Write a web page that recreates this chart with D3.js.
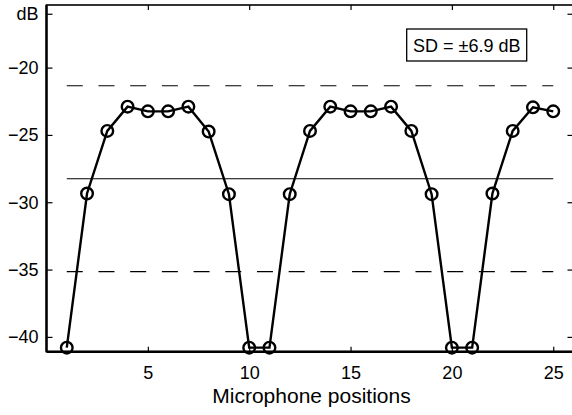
<!DOCTYPE html>
<html>
<head>
<meta charset="utf-8">
<script src="https://cdn.jsdelivr.net/npm/d3@7"></script>
<style>
  body { margin: 0; background: #fff; }
  svg { display: block; font-family: "Liberation Sans", Arial, sans-serif; }
</style>
</head>
<body>
<div id="chart"></div>
<script>
// microphone positions 1..25 and level in dB
const positions = d3.range(1, 26);
const levels = [-40.8, -29.35, -24.7, -22.9, -23.25, -23.25, -22.9, -24.75, -29.4, -40.8,
  -40.8, -29.4, -24.7, -22.9, -23.25, -23.25, -22.9, -24.7, -29.4, -40.8,
  -40.8, -29.35, -24.7, -22.95, -23.25];
const meanLevel = -28.25;
const sd = 6.9;
const xTicks = [5, 10, 15, 20, 25];
const yTicks = [-40, -35, -30, -25, -20, -16];
const yTickLabels = ["\u221240", "\u221235", "\u221230", "\u221225", "\u221220", "dB"];

let width = 572;
let height = 415;
let mLeft = 46.5, mRight = 573.5, mTop = 5, mBottom = 351.7;

let svg = d3.select("#chart").append("svg")
  .attr("width", width)
  .attr("height", height);

let x = d3.scaleLinear().domain([0, 26]).range([mLeft, mRight]);
let y = d3.scaleLinear().domain([-41.1, -15.35]).range([mBottom, mTop]);

// reference lines: mean and mean +/- sd
let refs = [
  { v: meanLevel, dash: null },
  { v: meanLevel + sd, dash: "16,15.7" },
  { v: meanLevel - sd, dash: "16,15.7" }
];
svg.selectAll("line.ref")
  .data(refs)
  .enter()
  .append("line")
  .attr("class", "ref")
  .attr("x1", x(positions[0]))
  .attr("x2", x(positions[positions.length - 1]))
  .attr("y1", d => y(d.v))
  .attr("y2", d => y(d.v))
  .attr("stroke", "#000")
  .attr("stroke-width", 1.1)
  .attr("stroke-dasharray", d => d.dash);

// data line
let line = d3.line()
  .x((d, i) => x(positions[i]))
  .y(d => y(d));

svg.append("path")
  .datum(levels)
  .attr("d", line)
  .attr("fill", "none")
  .attr("stroke", "#000")
  .attr("stroke-width", 2.4);

svg.selectAll("circle.pt")
  .data(levels)
  .enter()
  .append("circle")
  .attr("class", "pt")
  .attr("cx", (d, i) => x(positions[i]))
  .attr("cy", d => y(d))
  .attr("r", 5.8)
  .attr("fill", "none")
  .attr("stroke", "#000")
  .attr("stroke-width", 2.4);

// axes, ticks pointing inward, box around
let fmtY = d => yTickLabels[yTicks.indexOf(d)];

let gLeft = svg.append("g")
  .attr("transform", `translate(${mLeft},0)`)
  .call(d3.axisLeft(y).tickValues(yTicks).tickFormat(fmtY).tickSize(-6).tickPadding(8));
let gRight = svg.append("g")
  .attr("transform", `translate(${mRight},0)`)
  .call(d3.axisRight(y).tickValues(yTicks).tickFormat("").tickSize(-6));
let gBottom = svg.append("g")
  .attr("transform", `translate(0,${mBottom})`)
  .call(d3.axisBottom(x).tickValues(xTicks).tickFormat(d3.format("d")).tickSize(-5).tickPadding(15));
let gTop = svg.append("g")
  .attr("transform", `translate(0,${mTop})`)
  .call(d3.axisTop(x).tickValues(xTicks).tickFormat("").tickSize(-5));

[gLeft, gRight, gBottom, gTop].forEach(g => {
  g.select(".domain").remove();
  g.selectAll("line").attr("stroke", "#000").attr("stroke-width", 1.2);
  g.selectAll("text").attr("font-size", 18).attr("fill", "#000")
    .style("font-family", "Liberation Sans, Arial, sans-serif");
});

svg.append("rect")
  .attr("x", mLeft)
  .attr("y", mTop)
  .attr("width", mRight - mLeft)
  .attr("height", mBottom - mTop)
  .attr("fill", "none")
  .attr("stroke", "#000")
  .attr("stroke-width", 1.6);
svg.append("line")
  .attr("x1", mLeft).attr("x2", mRight)
  .attr("y1", mBottom).attr("y2", mBottom)
  .attr("stroke", "#000").attr("stroke-width", 2.4);
svg.append("line")
  .attr("x1", mLeft).attr("x2", mLeft)
  .attr("y1", mTop).attr("y2", mBottom)
  .attr("stroke", "#000").attr("stroke-width", 2.4);

// x label
svg.append("text")
  .attr("x", (mLeft + mRight) / 2 + 1.5)
  .attr("y", 402.5)
  .attr("text-anchor", "middle")
  .attr("font-size", 21)
  .text("Microphone positions");

// SD annotation
let note = svg.append("g").attr("transform", "translate(466.7,45)");
note.append("rect")
  .attr("x", -60).attr("y", -16)
  .attr("width", 120).attr("height", 32)
  .attr("fill", "#fff")
  .attr("stroke", "#000")
  .attr("stroke-width", 1.3);
note.append("text")
  .attr("y", 6.5)
  .attr("text-anchor", "middle")
  .attr("font-size", 18)
  .text("SD = \u00b1" + sd + " dB");
</script>
</body>
</html>
